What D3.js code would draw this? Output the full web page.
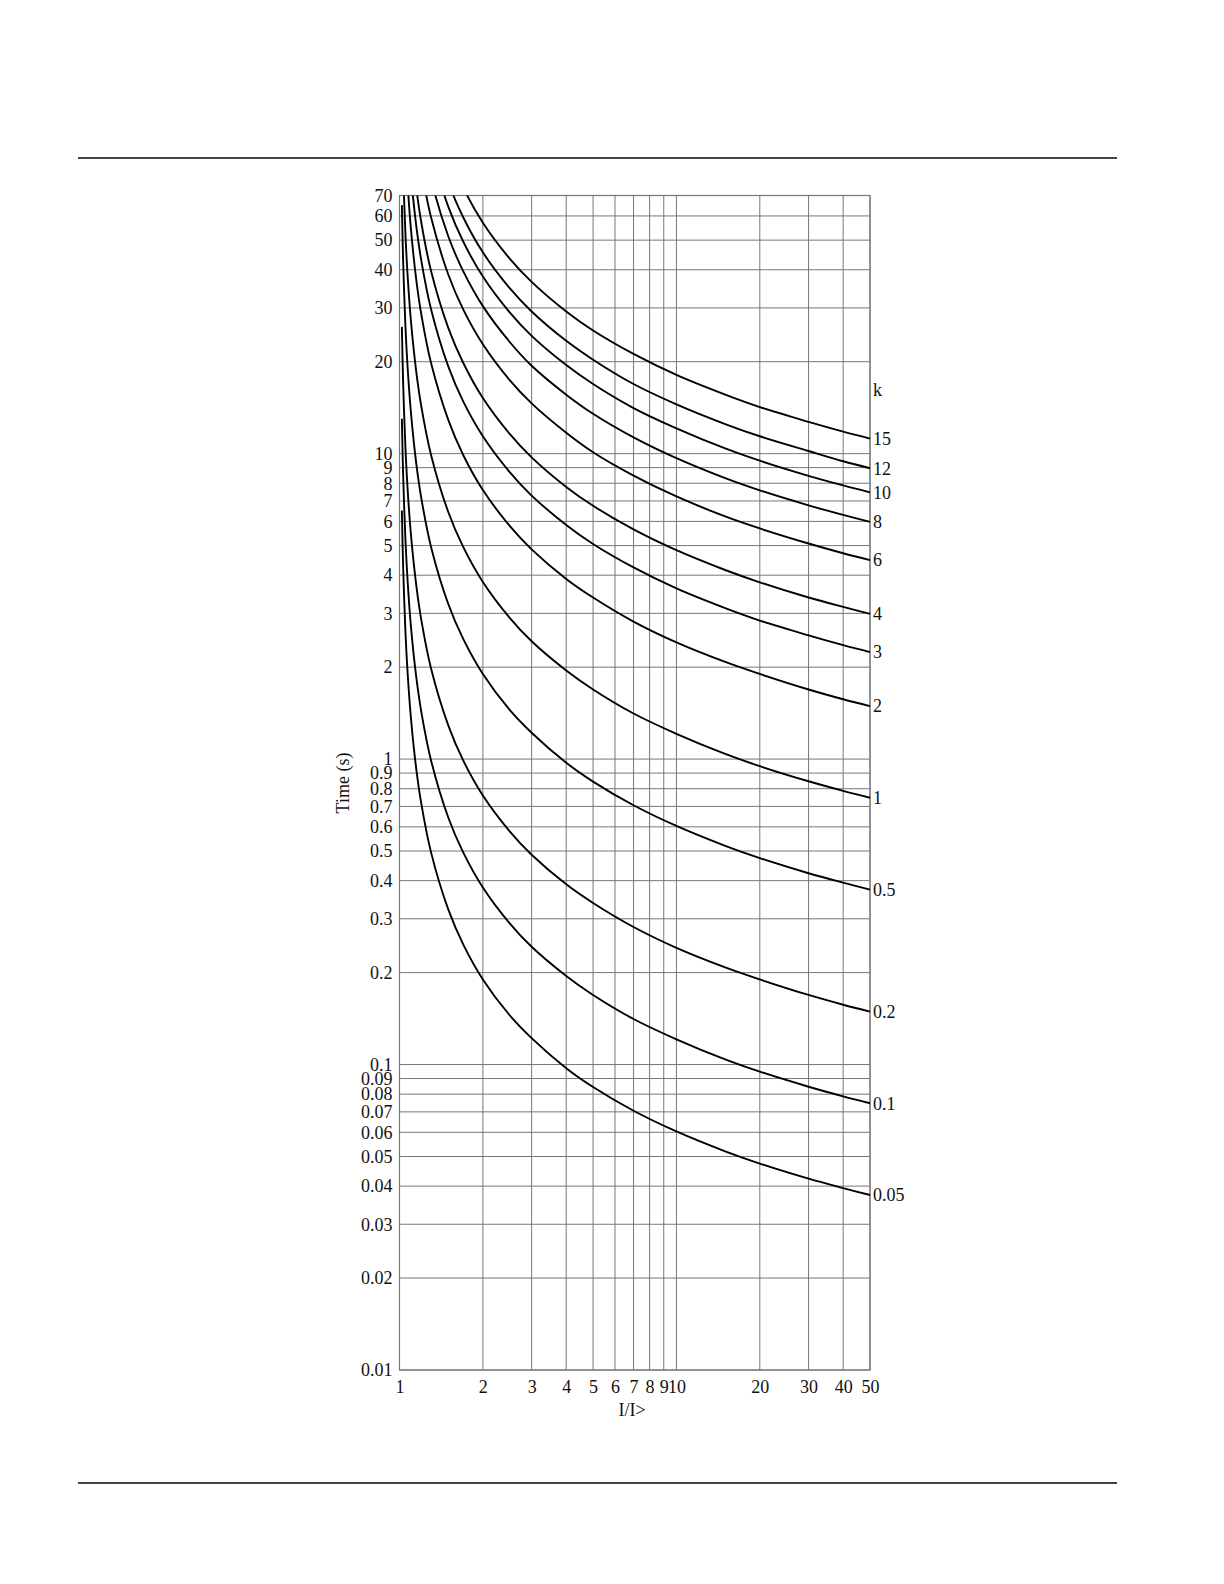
<!DOCTYPE html>
<html><head><meta charset="utf-8">
<script src="https://cdn.jsdelivr.net/npm/d3@7"></script>
<style>body{margin:0;background:#fff}svg text{font-family:"Liberation Serif","Times New Roman",serif;fill:#111}</style>
</head><body>
<svg id="c" width="1224" height="1584"></svg>
<script>
// Current multiple I/I>
const currents = [1.02, 1.03, 1.05, 1.07, 1.1, 1.15, 1.2, 1.3, 1.5, 1.7, 2, 2.5, 3, 4, 5, 7, 10, 15, 20, 30, 40, 50];
// Time (s) for each k setting
const kLabels = ["0.05","0.1","0.2","0.5","1","2","3","4","6","8","10","12","15"];
const t_k005 = [6.51, 4.36, 2.64, 1.91, 1.36, 0.926, 0.711, 0.495, 0.322, 0.247, 0.190, 0.145, 0.122, 0.0973, 0.0844, 0.0706, 0.0604, 0.0520, 0.0474, 0.0423, 0.0394, 0.0374];
const t_k01  = [13.0, 8.72, 5.29, 3.82, 2.71, 1.85, 1.42, 0.990, 0.644, 0.494, 0.380, 0.290, 0.243, 0.195, 0.169, 0.141, 0.121, 0.104, 0.0948, 0.0846, 0.0787, 0.0747];
const t_k02  = [26.0, 17.4, 10.6, 7.63, 5.42, 3.70, 2.84, 1.98, 1.29, 0.988, 0.760, 0.580, 0.486, 0.389, 0.338, 0.282, 0.241, 0.208, 0.190, 0.169, 0.157, 0.149];
const t_k05  = [65.1, 43.6, 26.4, 19.1, 13.6, 9.26, 7.11, 4.95, 3.22, 2.47, 1.90, 1.45, 1.22, 0.973, 0.844, 0.706, 0.604, 0.520, 0.474, 0.423, 0.394, 0.374];
const t_k1   = [130, 87.2, 52.9, 38.2, 27.1, 18.5, 14.2, 9.90, 6.44, 4.94, 3.80, 2.90, 2.43, 1.95, 1.69, 1.41, 1.21, 1.04, 0.948, 0.846, 0.787, 0.747];
const t_k2   = [260, 174, 106, 76.3, 54.2, 37.0, 28.4, 19.8, 12.9, 9.88, 7.60, 5.80, 4.86, 3.89, 3.38, 2.82, 2.41, 2.08, 1.90, 1.69, 1.57, 1.49];
const t_k3   = [390, 262, 159, 114, 81.3, 55.5, 42.6, 29.7, 19.3, 14.8, 11.4, 8.70, 7.29, 5.84, 5.06, 4.24, 3.62, 3.12, 2.84, 2.54, 2.36, 2.24];
const t_k4   = [520, 349, 211, 153, 108, 74.0, 56.8, 39.6, 25.8, 19.8, 15.2, 11.6, 9.72, 7.78, 6.75, 5.65, 4.83, 4.16, 3.79, 3.38, 3.15, 2.99];
const t_k6   = [781, 523, 317, 229, 163, 111, 85.3, 59.4, 38.6, 29.6, 22.8, 17.4, 14.6, 11.7, 10.1, 8.47, 7.24, 6.23, 5.69, 5.08, 4.72, 4.48];
const t_k8   = [1041, 698, 423, 305, 217, 148, 114, 79.2, 51.5, 39.5, 30.4, 23.2, 19.4, 15.6, 13.5, 11.3, 9.66, 8.31, 7.58, 6.77, 6.30, 5.98];
const t_k10  = [1301, 872, 529, 382, 271, 185, 142, 99.0, 64.4, 49.4, 38.0, 29.0, 24.3, 19.5, 16.9, 14.1, 12.1, 10.4, 9.48, 8.46, 7.87, 7.47];
const t_k12  = [1561, 1046, 634, 458, 325, 222, 171, 119, 77.3, 59.3, 45.6, 34.8, 29.2, 23.4, 20.3, 16.9, 14.5, 12.5, 11.4, 10.2, 9.44, 8.96];
const t_k15  = [1952, 1308, 793, 572, 407, 278, 213, 149, 96.6, 74.1, 57.0, 43.5, 36.5, 29.2, 25.3, 21.2, 18.1, 15.6, 14.2, 12.7, 11.8, 11.2];
const seriesTimes = [t_k005, t_k01, t_k02, t_k05, t_k1, t_k2, t_k3, t_k4, t_k6, t_k8, t_k10, t_k12, t_k15];

const xTicks = [1,2,3,4,5,6,7,8,9,10,20,30,40,50];
const xTickLabels = ["1","2","3","4","5","6","7","8","9","10","20","30","40","50"];
const yTicks = [0.01,0.02,0.03,0.04,0.05,0.06,0.07,0.08,0.09,0.1,0.2,0.3,0.4,0.5,0.6,0.7,0.8,0.9,1,2,3,4,5,6,7,8,9,10,20,30,40,50,60,70];
const yTickLabels = ["0.01","0.02","0.03","0.04","0.05","0.06","0.07","0.08","0.09","0.1","0.2","0.3","0.4","0.5","0.6","0.7","0.8","0.9","1","2","3","4","5","6","7","8","9","10","20","30","40","50","60","70"];

const svg = d3.select("#c");
const L = 399.5, R = 870, T = 195.5, B = 1370;
const x = d3.scaleLog().domain([1,50]).range([L,R]);
const y = d3.scaleLog().domain([0.01,70]).range([B,T]);

// page rules
svg.append("line").attr("x1",78).attr("x2",1117).attr("y1",158).attr("y2",158).attr("stroke","#444").attr("stroke-width",2);
svg.append("line").attr("x1",78).attr("x2",1117).attr("y1",1483).attr("y2",1483).attr("stroke","#444").attr("stroke-width",2);

// grid
const g = svg.append("g");
g.selectAll(".vg").data(xTicks).join("line")
  .attr("x1",d=>x(d)).attr("x2",d=>x(d)).attr("y1",T).attr("y2",B)
  .attr("stroke","#777").attr("stroke-width",1);
g.selectAll(".hg").data(yTicks).join("line")
  .attr("x1",L).attr("x2",R).attr("y1",d=>y(d)).attr("y2",d=>y(d))
  .attr("stroke","#777").attr("stroke-width",1);
g.append("rect").attr("x",L).attr("y",T).attr("width",R-L).attr("height",B-T)
  .attr("fill","none").attr("stroke","#777").attr("stroke-width",1.2);

// axis labels via d3 axes
const xAxis = d3.axisBottom(x).tickValues(xTicks).tickFormat((d,i)=>xTickLabels[i]).tickSize(0).tickPadding(10);
const ax = svg.append("g").attr("transform",`translate(0,${B})`).call(xAxis);
ax.select(".domain").remove();
ax.selectAll("text").attr("font-size",18).attr("font-family","Liberation Serif").attr("fill","#111");
const yAxis = d3.axisLeft(y).tickValues(yTicks).tickFormat((d,i)=>yTickLabels[i]).tickSize(0).tickPadding(7);
const ay = svg.append("g").attr("transform",`translate(${L},0)`).call(yAxis);
ay.select(".domain").remove();
ay.selectAll("text").attr("font-size",18).attr("font-family","Liberation Serif").attr("fill","#111");

svg.append("text").attr("x",632).attr("y",1416).attr("text-anchor","middle").attr("font-size",18).text("I/I>");
svg.append("text").attr("transform","translate(349,783) rotate(-90)").attr("text-anchor","middle").attr("font-size",18).text("Time (s)");

// curves
svg.append("clipPath").attr("id","clip").append("rect").attr("x",L).attr("y",T).attr("width",R-L+1).attr("height",B-T);
const line = d3.line().x(d=>x(d[0])).y(d=>y(d[1])).curve(d3.curveCatmullRom.alpha(0.5));
const cg = svg.append("g").attr("clip-path","url(#clip)");
seriesTimes.forEach(ts=>{
  const pts = currents.map((c,i)=>[c, ts[i]]);
  cg.append("path").attr("d",line(pts)).attr("fill","none").attr("stroke","#000").attr("stroke-width",1.9);
});

// curve labels
seriesTimes.forEach((ts,i)=>{
  svg.append("text").attr("x",R+3).attr("y",y(ts[ts.length-1])).attr("dy","0.35em")
    .attr("font-size",18).text(kLabels[i]);
});
svg.append("text").attr("x",R+3).attr("y",390).attr("dy","0.35em").attr("font-size",18).text("k");
</script>
</body></html>
